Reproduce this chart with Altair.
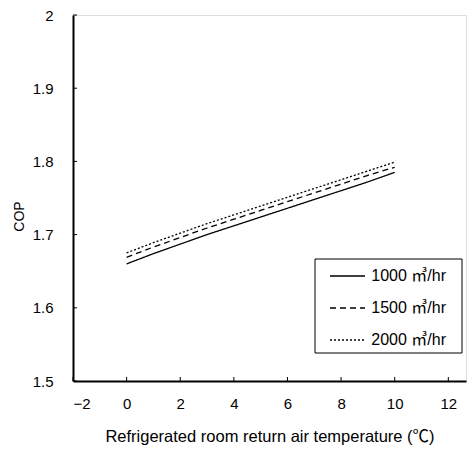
import altair as alt
import pandas as pd

temps = [0, 1, 2, 3, 4, 5, 6, 7, 8, 9, 10]
cop_1000 = [1.660, 1.674, 1.687, 1.700, 1.712, 1.724, 1.736, 1.748, 1.760, 1.772, 1.785]
cop_1500 = [1.669, 1.683, 1.696, 1.709, 1.721, 1.733, 1.745, 1.757, 1.769, 1.781, 1.792]
cop_2000 = [1.675, 1.689, 1.702, 1.715, 1.727, 1.739, 1.751, 1.763, 1.775, 1.787, 1.799]
flow_labels = ["1000 ㎥/hr", "1500 ㎥/hr", "2000 ㎥/hr"]
x_ticks = [-2, 0, 2, 4, 6, 8, 10, 12]
y_ticks = [1.5, 1.6, 1.7, 1.8, 1.9, 2.0]

rows = []
for lab, vals in zip(flow_labels, [cop_1000, cop_1500, cop_2000]):
    for t, v in zip(temps, vals):
        rows.append({"T": t, "COP": v, "Flow": lab})
df = pd.DataFrame(rows)
leg_df = pd.DataFrame({"Flow": flow_labels})

W, H = 393, 366
xscale = alt.Scale(domain=[-2, 12.66], nice=False, zero=False)
yscale = alt.Scale(domain=[1.5, 2.0], nice=False, zero=False)
dash_scale = alt.Scale(domain=flow_labels, range=[[1, 0], [6, 4], [2, 2]])
font = "Liberation Sans, Noto Sans CJK KR"

lines = alt.Chart(df).mark_line(color="black", strokeWidth=1.3).encode(
    x=alt.X("T:Q", scale=xscale,
            axis=alt.Axis(values=x_ticks, title="Refrigerated room return air temperature (℃)",
                          grid=False, ticks=False, domainColor="black", domainWidth=2,
                          labelFont=font, labelFontSize=15, labelColor="black", labelPadding=15,
                          titleFont=font, titleFontSize=16.5, titleFontWeight="normal",
                          titleColor="black", titlePadding=17)),
    y=alt.Y("COP:Q", scale=yscale,
            axis=alt.Axis(values=y_ticks, format=".1~f", title="COP", grid=False, ticks=False,
                          domainColor="black", domainWidth=2,
                          labelFont=font, labelFontSize=15, labelColor="black", labelPadding=20,
                          titleFont=font, titleFontSize=14, titleFontWeight="normal",
                          titleColor="black", titlePadding=6, titleY=201)),
    strokeDash=alt.StrokeDash("Flow:N", scale=dash_scale, legend=None),
)

xt = pd.DataFrame({"v": x_ticks})
yt = pd.DataFrame({"v": y_ticks})
xticks = alt.Chart(xt).mark_rule(color="black", strokeWidth=1).encode(
    x=alt.X("v:Q", scale=xscale), y=alt.value(H), y2=alt.value(H - 4))
yticks = alt.Chart(yt).mark_rule(color="black", strokeWidth=1).encode(
    y=alt.Y("v:Q", scale=yscale, axis=None), x=alt.value(0), x2=alt.value(4))

leg_box = alt.Chart(alt.Data(values=[{}])).mark_rect(
    fill="white", stroke="black", strokeWidth=1).encode(
    x=alt.value(242), x2=alt.value(389), y=alt.value(244), y2=alt.value(338))
row_scale = alt.Scale(type="point", domain=flow_labels, range=[261, 325], padding=0)
leg_lines = alt.Chart(leg_df).mark_rule(color="black", strokeWidth=1.3).encode(
    y=alt.Y("Flow:N", scale=row_scale, axis=None),
    x=alt.value(257), x2=alt.value(292),
    strokeDash=alt.StrokeDash("Flow:N", scale=dash_scale, legend=None))
leg_text = alt.Chart(leg_df).mark_text(
    align="right", baseline="middle", font=font, fontSize=16, color="black").encode(
    y=alt.Y("Flow:N", scale=row_scale, axis=None),
    x=alt.value(373), text="Flow:N")

chart = alt.layer(lines, xticks, yticks, leg_box, leg_lines, leg_text).resolve_scale(
    y="independent"
).properties(
    width=W, height=H,
    autosize=alt.AutoSizeParams(type="none"),
    padding={"left": 65, "top": 7, "right": 1, "bottom": 66},
).configure_view(stroke="black", strokeWidth=1.5).configure(background="white")

chart.save("out.html", embed_options={"renderer": "svg", "actions": False})
